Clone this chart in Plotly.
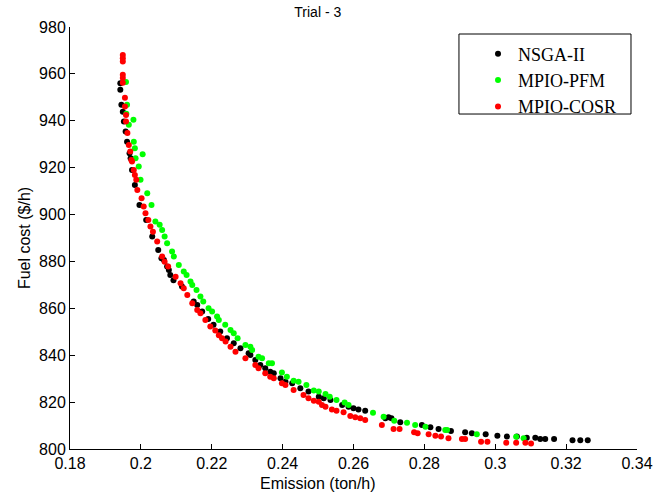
import plotly.graph_objects as go

# ---------------- data ----------------
nsga_x = [0.1942, 0.1942, 0.1945, 0.1949, 0.1952, 0.1957, 0.1961, 0.1968, 0.1971, 0.1975,
          0.1983, 0.1996, 0.2015, 0.2032, 0.2049, 0.2058, 0.2065, 0.2074, 0.2079, 0.2083,
          0.2092, 0.2116, 0.2149, 0.2159, 0.2173, 0.2190, 0.2205, 0.2224, 0.2243, 0.2262,
          0.2281, 0.2304, 0.2309, 0.2323, 0.2337, 0.2351, 0.2365, 0.2375, 0.2394, 0.2408,
          0.2427, 0.2450, 0.2473, 0.2502, 0.2516, 0.2535, 0.2568, 0.2586, 0.2600, 0.2614,
          0.2633, 0.2690, 0.2699, 0.2707, 0.2732, 0.2793, 0.2817, 0.2840, 0.2875, 0.2915,
          0.2934, 0.2973, 0.3006, 0.3033, 0.3061, 0.3089, 0.3113, 0.3127, 0.3141, 0.3166,
          0.3218, 0.3240, 0.3261]
nsga_y = [956.0, 953.2, 946.8, 943.9, 939.7, 935.4, 931.1, 926.2, 924.0, 919.0,
          912.6, 904.1, 897.7, 890.6, 884.9, 881.4, 880.6, 877.8, 876.4, 874.2,
          872.0, 869.3, 862.9, 861.4, 858.6, 855.5, 853.0, 850.1, 847.2, 845.1,
          843.0, 840.8, 840.1, 838.0, 835.8, 834.4, 833.0, 832.3, 830.2, 828.7,
          828.0, 825.9, 824.5, 822.3, 821.6, 820.9, 818.8, 818.0, 817.4, 816.9,
          816.3, 813.1, 813.5, 813.1, 811.4, 810.2, 809.3, 808.5, 807.7, 807.1,
          806.7, 806.3, 805.7, 805.3, 805.3, 804.8, 804.8, 804.3, 804.3, 804.3,
          803.7, 803.7, 803.7]

pfm_x = [0.1958, 0.1961, 0.1959, 0.1966, 0.1979, 0.1980, 0.1983, 0.2005, 0.1985, 0.1994,
         0.1999, 0.2018, 0.2030, 0.2041, 0.2053, 0.2060, 0.2067, 0.2074, 0.2088, 0.2093,
         0.2107, 0.2121, 0.2129, 0.2140, 0.2145, 0.2157, 0.2168, 0.2176, 0.2191, 0.2201,
         0.2215, 0.2220, 0.2238, 0.2253, 0.2262, 0.2273, 0.2295, 0.2309, 0.2314, 0.2332,
         0.2342, 0.2361, 0.2370, 0.2398, 0.2412, 0.2431, 0.2445, 0.2467, 0.2488, 0.2502,
         0.2521, 0.2533, 0.2552, 0.2575, 0.2586, 0.2655, 0.2685, 0.2715, 0.2751, 0.2774,
         0.2803, 0.2859, 0.2864, 0.2948, 0.3059, 0.3080]
pfm_y = [956.5, 946.8, 943.0, 938.3, 940.4, 931.1, 928.3, 925.7, 924.0, 920.5,
         914.8, 909.1, 904.1, 897.0, 895.6, 893.4, 890.6, 887.8, 884.2, 882.1,
         878.5, 875.7, 874.2, 871.4, 870.0, 867.8, 865.0, 862.9, 860.0, 858.6,
         856.5, 855.0, 853.0, 850.8, 849.4, 847.2, 844.4, 843.6, 842.2, 839.4,
         838.7, 836.6, 836.6, 832.6, 830.8, 829.1, 828.7, 827.3, 824.9, 824.5,
         823.5, 822.3, 820.9, 819.8, 818.8, 815.5, 813.8, 812.1, 811.2, 810.2,
         809.5, 808.1, 808.1, 806.3, 805.2, 804.6]

cosr_x = [0.1949, 0.1949, 0.1949, 0.1949, 0.1949, 0.1949, 0.1955, 0.1955, 0.1958, 0.1958,
          0.1962, 0.1966, 0.1970, 0.1973, 0.1975, 0.1980, 0.1983, 0.1987, 0.1990, 0.2002,
          0.2008, 0.2013, 0.2021, 0.2027, 0.2034, 0.2046, 0.2060, 0.2067, 0.2077, 0.2098,
          0.2112, 0.2121, 0.2131, 0.2145, 0.2159, 0.2168, 0.2182, 0.2196, 0.2210, 0.2220,
          0.2229, 0.2239, 0.2253, 0.2267, 0.2295, 0.2323, 0.2332, 0.2351, 0.2365, 0.2375,
          0.2398, 0.2408, 0.2431, 0.2459, 0.2473, 0.2488, 0.2502, 0.2511, 0.2521, 0.2539,
          0.2552, 0.2572, 0.2591, 0.2605, 0.2619, 0.2633, 0.2680, 0.2713, 0.2730, 0.2771,
          0.2781, 0.2812, 0.2831, 0.2847, 0.2868, 0.2906, 0.2915, 0.2960, 0.2978, 0.3031,
          0.3059, 0.3085, 0.3101]
cosr_y = [968.1, 966.7, 965.3, 959.6, 958.2, 956.2, 949.8, 946.1, 942.5, 939.7,
          934.8, 929.7, 926.9, 923.3, 922.6, 919.0, 916.9, 914.8, 910.5, 907.0,
          903.4, 900.6, 897.7, 894.9, 892.7, 888.5, 882.1, 879.9, 877.8, 873.5,
          870.7, 868.6, 865.7, 862.2, 859.3, 857.9, 855.0, 852.2, 850.5, 848.5,
          847.2, 845.8, 843.6, 841.5, 838.7, 835.8, 834.4, 832.3, 830.8, 830.2,
          828.0, 827.3, 825.2, 823.0, 821.6, 820.6, 820.2, 818.8, 818.0, 816.9,
          816.3, 815.7, 814.1, 813.5, 813.1, 812.4, 810.2, 808.5, 808.5, 807.1,
          806.7, 806.3, 805.7, 805.3, 804.6, 804.3, 804.3, 803.1, 803.1, 802.7,
          802.7, 802.7, 802.3]

series_names = ["NSGA-II", "MPIO-PFM", "MPIO-COSR"]
series_colors = ["#000000", "#00FF00", "#FF0000"]

x_tickvals = [0.18, 0.20, 0.22, 0.24, 0.26, 0.28, 0.30, 0.32, 0.34]
x_ticktext = ["0.18", "0.2", "0.22", "0.24", "0.26", "0.28", "0.3", "0.32", "0.34"]
y_tickvals = [800, 820, 840, 860, 880, 900, 920, 940, 960, 980]

# ---------------- figure ----------------
fig = go.Figure()
for xs, ys, name, col in zip([nsga_x, pfm_x, cosr_x], [nsga_y, pfm_y, cosr_y],
                             series_names, series_colors):
    fig.add_trace(go.Scatter(x=xs, y=ys, mode="markers", name=name,
                             marker=dict(color=col, size=6, line=dict(width=0))))

sans = "Liberation Sans, Arial, sans-serif"
tick_font = dict(family=sans, size=16, color="black")

fig.update_layout(
    width=667, height=496,
    margin=dict(l=70, r=30, t=27, b=47),
    paper_bgcolor="white", plot_bgcolor="white",
    title=dict(text="Trial - 3", x=0.437, xref="paper", xanchor="center",
               y=1 - 12 / 496, yanchor="middle",
               font=dict(family=sans, size=14, color="black")),
    showlegend=True,
    legend=dict(x=0.7196, y=0.98, xanchor="left", yanchor="top",
                bgcolor="rgba(255,255,255,0)", borderwidth=0,
                font=dict(family="Liberation Serif, Times New Roman, serif", size=18, color="black"),
                itemwidth=30),
    shapes=[dict(type="rect", xref="paper", yref="paper",
                 x0=0.686, x1=0.9894, y0=0.7938, y1=0.9834,
                 line=dict(color="black", width=1), fillcolor="white", layer="below")],
    annotations=[dict(text="Emission (ton/h)", x=0.437, xref="paper", xanchor="center",
                      y=-(483 - 449) / 422, yref="paper", yanchor="middle",
                      showarrow=False, font=tick_font)],
)

fig.update_xaxes(range=[0.18, 0.34], tickvals=x_tickvals, ticktext=x_ticktext,
                 showline=True, linecolor="black", linewidth=1, mirror=False,
                 ticks="inside", ticklen=5, tickcolor="black", showgrid=False, zeroline=False,
                 tickfont=tick_font)
fig.update_yaxes(range=[800, 980], tickvals=y_tickvals,
                 showline=True, linecolor="black", linewidth=1, mirror=False,
                 ticks="inside", ticklen=5, tickcolor="black", showgrid=False, zeroline=False,
                 tickfont=tick_font,
                 title=dict(text="Fuel cost ($/h)", standoff=4, font=tick_font))

fig.write_html("out.html")
